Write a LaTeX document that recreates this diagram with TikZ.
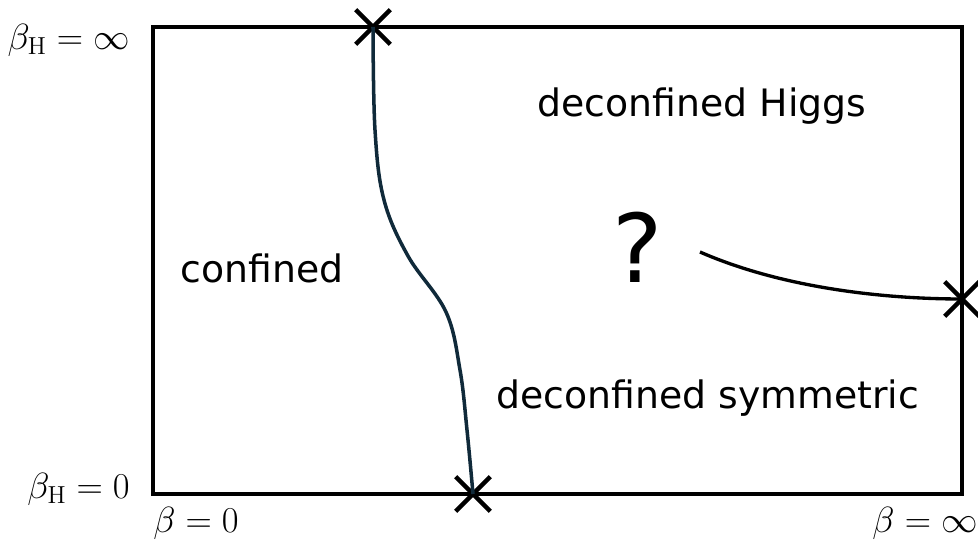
\documentclass[tikz,border=0pt]{standalone}
\usepackage{amsmath,amssymb}
\usepackage{fontspec}
\setsansfont{DejaVu Sans}
\usepackage{xcolor}
\usetikzlibrary{shapes.misc,positioning}
\definecolor{lineteal}{HTML}{102A3A}

\begin{document}
\begin{tikzpicture}[
  x=0.02cm, y=-0.02cm,
  region/.style={font=\sffamily\fontsize{21.5}{26}\selectfont, inner sep=0pt},
  axislbl/.style={font=\fontsize{20}{24}\selectfont, inner sep=0pt},
  xmark/.style={draw, cross out, line width=2.6pt, minimum size=0.6cm, inner sep=0pt},
  frame/.style={draw, line width=2.3pt}
]
\useasboundingbox (0,0) rectangle (978,543);

% phase diagram frame
\draw[frame] (153,27) rectangle (962,494);

% end points of the transition lines
\node[xmark] (top) at (373,27) {};
\node[xmark] (bottom) at (473,494) {};
\node[xmark] (right) at (962,299) {};
\coordinate (open) at (700,252);

% axis labels
\node[axislbl, anchor=east] (bhinf) at (130,40) {$\beta_{\mathrm{H}}=\infty$};
\node[axislbl, anchor=east] (bhzero) at (130,489) {$\beta_{\mathrm{H}}=0$};
\node[axislbl] (bzero) at (196,523) {$\beta=0$};
\node[axislbl] (binf) at (925,523) {$\beta=\infty$};

% phases
\node[region] (higgs) at (702,106) {deconfined Higgs};
\node[region] (conf) at (262,268) {confined};
\node[region] (sym) at (708,398) {deconfined symmetric};
\node[font=\sffamily\fontsize{54}{60}\selectfont, inner sep=0pt] (qmark) at (638,247) {?};

% transition lines
\draw[lineteal, line width=2pt] plot[smooth, tension=0.6] coordinates
  {(top.center) (375,130) (384,200) (408,256) (446,312) (460,370) (467,430) (bottom.center)};
\draw[line width=1.9pt] (open) .. controls (780,287) and (880,299) .. (right.center);
\end{tikzpicture}
\end{document}
